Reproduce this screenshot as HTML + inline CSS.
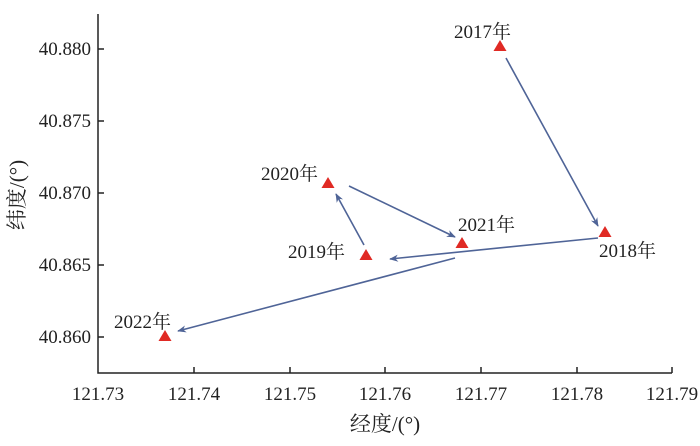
<!DOCTYPE html>
<html><head><meta charset="utf-8"><style>body{margin:0;background:#fff}</style></head><body>
<svg width="700" height="441" viewBox="0 0 700 441" xmlns="http://www.w3.org/2000/svg" font-family="Liberation Serif, Noto Serif CJK SC, serif" font-size="19" fill="#222">
<defs><marker id="a" viewBox="0 0 10 10" refX="9" refY="5" markerWidth="9" markerHeight="9" orient="auto" markerUnits="userSpaceOnUse"><path d="M0,1 L10,5 L0,9 L3,5z" fill="#4f6497"/></marker></defs>
<g stroke="#222" stroke-width="1.5" fill="none">
<path d="M98,14 V373 H672"/>
<path d="M194,373v-6M290,373v-6M385,373v-6M481,373v-6M577,373v-6M672,373v-6"/>
<path d="M98,49h6M98,121h6M98,193h6M98,265h6M98,337h6"/>
</g>
<g text-anchor="end">
<text x="91" y="55">40.880</text><text x="91" y="127">40.875</text><text x="91" y="199">40.870</text><text x="91" y="271">40.865</text><text x="91" y="343">40.860</text>
</g>
<g text-anchor="middle">
<text x="98" y="400">121.73</text><text x="194" y="400">121.74</text><text x="290" y="400">121.75</text><text x="385" y="400">121.76</text><text x="481" y="400">121.77</text><text x="577" y="400">121.78</text><text x="672" y="400">121.79</text>
<text x="385" y="431" font-size="21">经度/(°)</text>
</g>
<text transform="translate(24,195) rotate(-90)" text-anchor="middle" font-size="21">纬度/(°)</text>
<g stroke="#4f6497" stroke-width="1.6" marker-end="url(#a)">
<line x1="506" y1="58" x2="598" y2="226"/>
<line x1="598" y1="238" x2="390" y2="259"/>
<line x1="364" y1="245" x2="336" y2="194"/>
<line x1="349" y1="186" x2="455" y2="237"/>
<line x1="455" y1="258" x2="178" y2="331"/>
</g>
<g fill="#e02a24">
<path d="M500,40l6.5,11h-13z"/><path d="M605,226l6.5,11h-13z"/><path d="M366,249l6.5,11h-13z"/><path d="M328,177l6.5,11h-13z"/><path d="M462,237l6.5,11h-13z"/><path d="M165,330l6.5,11h-13z"/>
</g>
<text x="454" y="38">2017年</text>
<text x="599" y="257">2018年</text>
<text x="288" y="258">2019年</text>
<text x="261" y="180">2020年</text>
<text x="458" y="231">2021年</text>
<text x="114" y="328">2022年</text>
</svg>
</body></html>
